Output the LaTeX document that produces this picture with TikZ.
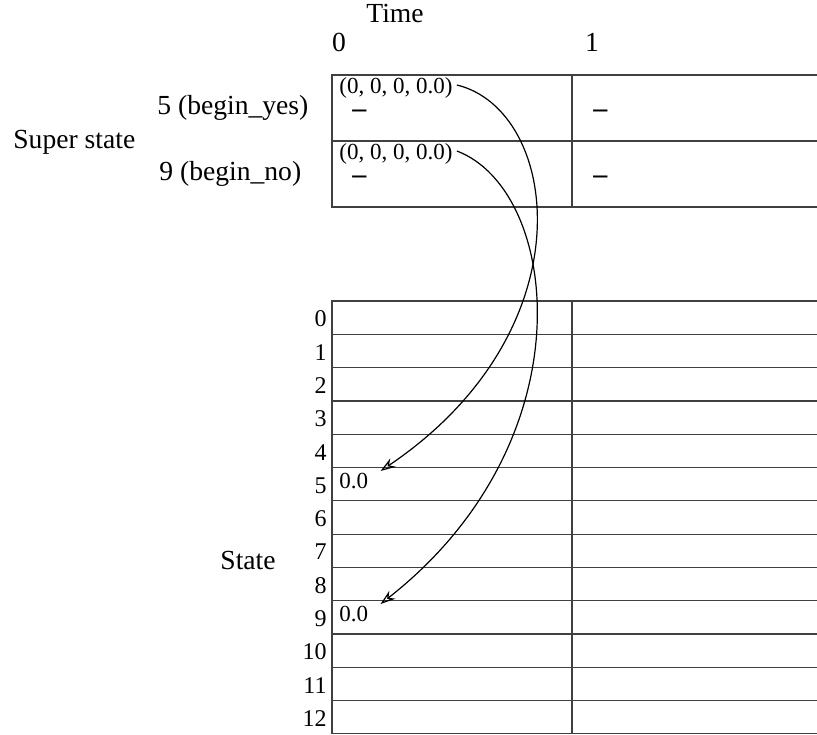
\documentclass[tikz,border=0pt]{standalone}
\usepackage{fontspec}
\setmainfont{Liberation Serif}
\usetikzlibrary{arrows.meta}
\begin{document}
\begin{tikzpicture}[x=0.5pt, y=-0.5pt,
    every node/.style={font=\fontsize{13.8}{16}\selectfont, inner sep=0pt},
    cell/.style={font=\fontsize{11.5}{13}\selectfont, anchor=west},
    none/.style={font=\fontsize{14}{16}\selectfont\bfseries, anchor=base west},
    grid/.style={line width=0.6pt, black!75},
    link/.style={line width=0.6pt, -{Stealth[open, length=7.5pt, width=5pt]}}]
    \useasboundingbox (0,0) rectangle (817,734);

    % Time axis
    \node (time) at (395,13) {Time};
    \node (t0) at (339,42) {0};
    \node (t1) at (592,42) {1};

    % Super state table
    \draw[grid] (817,75) -- (332,75) -- (332,207) -- (817,207);
    \draw[grid] (332,141) -- (817,141);
    \draw[grid] (572,75) -- (572,207);
    \node[anchor=west] (super) at (13,142) {Super state};
    \node[anchor=west] (yes) at (157,108) {5 (begin\_yes)};
    \node[anchor=west] (no) at (159,174) {9 (begin\_no)};
    \node[cell] (yes0) at (339,88) {(0, 0, 0, 0.0)};
    \node[cell] (no0) at (339,154) {(0, 0, 0, 0.0)};
    \node[none] (yesdash0) at (352,117) {\textendash};
    \node[none] (nodash0) at (352,183) {\textendash};
    \node[none] (yesdash1) at (593,117) {\textendash};
    \node[none] (nodash1) at (593,183) {\textendash};

    % State table
    \draw[grid] (332,734) -- (332,301) -- (817,301);
    \draw[grid] (572,301) -- (572,734);
    \foreach \i in {1,...,12}
        \draw[grid] (332,{301+\i*33.3}) -- (817,{301+\i*33.3});
    \draw[grid] (332,733.5) -- (817,733.5);
    \foreach \n in {0,...,12}
        \node[anchor=east, font=\fontsize{12}{14}\selectfont] (row\n) at (327,{319+\n*33.3}) {\n};
    \node (state) at (248,560) {State};
    \node[cell] (val5) at (339,481) {0.0};
    \node[cell] (val9) at (339,614) {0.0};

    % Links
    \draw[link] ([shift={(4,-3)}]yes0.east) .. controls (560,110) and (590,330) .. ([shift={(12,-10)}]val5.east);
    \draw[link] ([shift={(4,-3)}]no0.east) .. controls (560,190) and (590,440) .. ([shift={(12,-10)}]val9.east);
\end{tikzpicture}
\end{document}
